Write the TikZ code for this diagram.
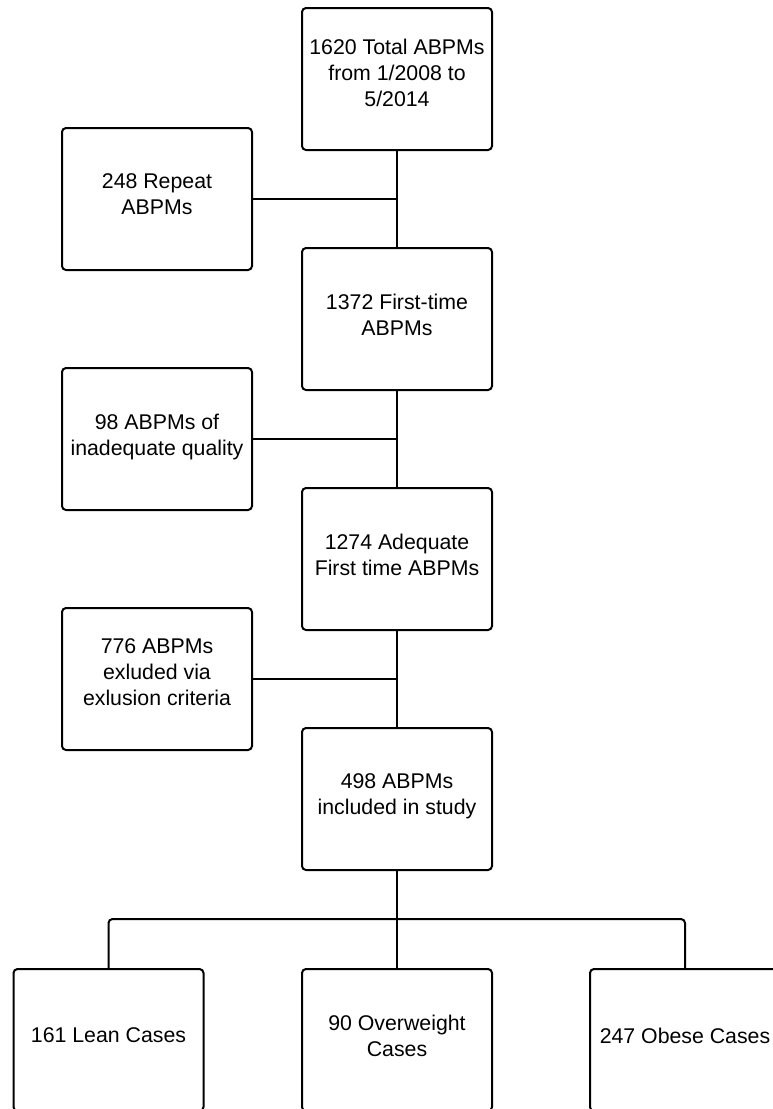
\documentclass[tikz,border=0pt]{standalone}
\usepackage{fontspec}
\setmainfont{Liberation Sans}
\begin{document}
\begin{tikzpicture}[x=1pt,y=-1pt,
  box/.style={draw, line width=2pt, rounded corners=4pt, minimum width=190pt, minimum height=142pt, align=center, font=\fontsize{21.3}{26}\selectfont, inner sep=0pt, text depth=9pt},
  tall/.style={text depth=13pt},
  conn/.style={line width=2pt}]
\useasboundingbox (0,0) rectangle (773,1109);
\clip (0,0) rectangle (773,1109);
\node[box,tall] (top) at (397,79) {1620 Total ABPMs\\from 1/2008 to\\5/2014};
\node[box] (repeat) at (157,199) {248 Repeat\\ABPMs};
\node[box] (first) at (397,319) {1372 First-time\\ABPMs};
\node[box] (inad) at (157,439) {98 ABPMs of\\inadequate quality};
\node[box] (adeq) at (397,559) {1274 Adequate\\First time ABPMs};
\node[box,tall] (excl) at (157,679) {776 ABPMs\\exluded via\\exlusion criteria};
\node[box] (incl) at (397,799) {498 ABPMs\\included in study};
\node[box] (lean) at (108.5,1040) {161 Lean Cases};
\node[box] (over) at (397,1040) {90 Overweight\\Cases};
\node[box] (obese) at (685,1040) {247 Obese Cases};
\coordinate (bar) at (397,919);
\draw[conn] (top) -- (first);
\draw[conn] (first) -- (adeq);
\draw[conn] (adeq) -- (incl);
\draw[conn] (incl) -- (over);
\draw[conn] (repeat.east) -- (repeat.east -| top.south);
\draw[conn] (inad.east) -- (inad.east -| first.south);
\draw[conn] (excl.east) -- (excl.east -| adeq.south);
\draw[conn, rounded corners=4pt] (lean.north) |- (bar) -| (obese.north);
\end{tikzpicture}
\end{document}
